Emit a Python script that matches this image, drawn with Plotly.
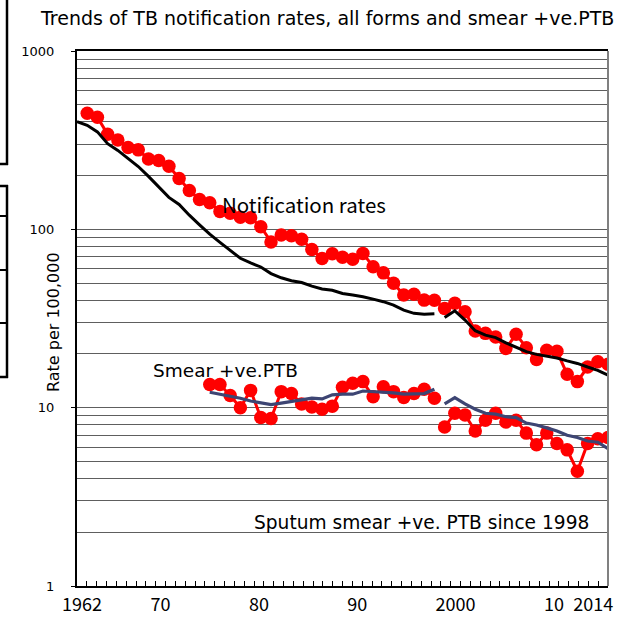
import plotly.graph_objects as go

# ---------------- data ----------------
notif_years = list(range(1963, 2015))
notif_rates = [448, 425, 341, 317, 288, 279, 248, 243, 226, 193,
               165, 147, 141, 126, 123, 117, 116, 103.5, 85, 93,
               92, 88, 77, 68.7, 73, 69.7, 68, 73.3, 61.7, 57,
               49.8, 42.8, 43.3, 40.1, 40, 36, 38.5, 34.5, 26.9, 26.1,
               24.9, 21.5, 25.8, 21.7, 18.6, 21.0, 20.7, 15.4, 14.0, 16.9,
               18.1, 17.5]

japan_years_1 = list(range(1962, 1998))
japan_rates_1 = [402, 383, 352, 302, 277, 251, 225, 198, 172, 151,
                 138, 120, 106, 94, 84.5, 76.6, 68.8, 64.8, 61.5, 56.5,
                 53.5, 51.5, 50.3, 48, 46.3, 45.5, 43.7, 42.8, 41.9, 40.6,
                 39.3, 37.6, 35.2, 33.8, 33.4, 33.6]
japan_years_2 = list(range(1998, 2015))
japan_rates_2 = [32.0, 34.9, 31.0, 27.0, 25.5, 24.7, 23.1, 21.9, 20.6, 19.9,
                 19.5, 19.0, 18.3, 17.7, 16.9, 16.2, 15.2]

smear_years_1 = list(range(1975, 1998))
smear_rates_1 = [13.5, 13.5, 11.7, 10.0, 12.5, 8.8, 8.7, 12.3, 12.0, 10.5,
                 10.1, 9.8, 10.2, 13.0, 13.7, 14.0, 11.5, 13.1, 12.3, 11.4,
                 12.0, 12.7, 11.3]
smear_years_2 = list(range(1998, 2015))
smear_rates_2 = [7.8, 9.3, 9.1, 7.4, 8.5, 9.3, 8.3, 8.5, 7.2, 6.2,
                 7.2, 6.3, 5.8, 4.4, 6.3, 6.7, 6.8]

japan_smear_1 = [12.2, 11.9, 11.6, 11.3, 10.9, 10.6, 10.4, 10.6, 10.8, 11.0,
                 11.3, 11.2, 11.8, 11.9, 11.9, 12.4, 12.3, 12.3, 12.1, 11.9,
                 12.0, 12.0, 12.7]
japan_smear_2 = [10.5, 11.4, 10.5, 9.8, 9.3, 9.2, 8.9, 8.8, 8.2, 8.0,
                 7.7, 7.4, 7.0, 6.8, 6.5, 6.4, 5.9]

tick_years = [1962, 1970, 1980, 1990, 2000, 2010, 2014]
tick_text = ["1962", "70", "80", "90", "2000", "10", "2014"]
category_years = list(range(1962, 2016))
y_tick_vals = [1, 10, 100, 1000]
y_tick_text = ["1", "10", "100", "1000"]
y_minor_vals = [m * d for d in (1, 10, 100) for m in range(2, 10)]

# ---------------- layout helpers ----------------
W, H = 630, 618
L, R, T, B = 77, 22, 51, 32
PW, PH = W - L - R, H - T - B


def px(x):
    return (x - L) / PW


def py(y):
    return (H - B - y) / PH


RED = "#ff0000"
BLUE = "#3d4573"

fig = go.Figure()

fig.add_trace(go.Scatter(x=notif_years, y=notif_rates, mode="lines+markers",
                         line=dict(color=RED, width=3),
                         marker=dict(color=RED, size=13.5), showlegend=False))
for yrs, vals in ((smear_years_1, smear_rates_1), (smear_years_2, smear_rates_2)):
    fig.add_trace(go.Scatter(x=yrs, y=vals, mode="lines+markers",
                             line=dict(color=RED, width=3),
                             marker=dict(color=RED, size=13.5), showlegend=False))
for yrs, vals in ((japan_years_1, japan_rates_1), (japan_years_2, japan_rates_2)):
    fig.add_trace(go.Scatter(x=yrs, y=vals, mode="lines",
                             line=dict(color="black", width=3), showlegend=False))
for yrs, vals in ((smear_years_1, japan_smear_1), (smear_years_2, japan_smear_2)):
    fig.add_trace(go.Scatter(x=yrs, y=vals, mode="lines",
                             line=dict(color=BLUE, width=3.2), showlegend=False))

# carrier for the category label axis
fig.add_trace(go.Scatter(x=category_years, y=[None] * len(category_years),
                         xaxis="x2", yaxis="y", mode="markers",
                         showlegend=False, hoverinfo="skip"))

grid_col = "#5e5e5e"

fig.update_layout(
    width=W, height=H,
    margin=dict(l=L, r=R, t=T, b=B, autoexpand=False),
    paper_bgcolor="white", plot_bgcolor="white",
    showlegend=False,
    xaxis=dict(range=[1962, 2014], showticklabels=False, ticks="",
               showgrid=False, zeroline=False, showline=True,
               linecolor="black", linewidth=2, mirror=True, automargin=False),
    xaxis2=dict(overlaying="x", anchor="y", side="bottom",
                range=[1961.5, 2015.5], tickmode="array",
                tickvals=tick_years, ticktext=tick_text, ticks="",
                showgrid=False, zeroline=False, showline=False,
                automargin=False,
                tickfont=dict(family="Noto Sans CJK JP", size=18, color="black"),
                ticklabelstandoff=6,
                minor=dict(tickmode="array",
                           tickvals=[y + 0.5 for y in category_years[:-1]],
                           ticks="inside", ticklen=5, tickwidth=1,
                           tickcolor="black", showgrid=False)),
    yaxis=dict(type="log", range=[0, 3], tickmode="array",
               tickvals=y_tick_vals, ticktext=y_tick_text,
               ticks="outside", ticklen=4, tickcolor="black",
               showline=True, linecolor="black", linewidth=2,
               showgrid=True, gridcolor=grid_col, gridwidth=1,
               zeroline=False, automargin=False,
               tickfont=dict(family="DejaVu Sans", size=13, color="black"),
               ticklabelstandoff=14,
               minor=dict(tickmode="array", tickvals=y_minor_vals,
                          showgrid=True, gridcolor=grid_col, gridwidth=1,
                          ticks="")),
)

annos = [
    dict(text="Trends of TB notification rates, all forms and smear +ve.PTB",
         x=px(327), y=py(18), xanchor="center", yanchor="middle",
         font=dict(family="DejaVu Sans", size=19, color="black")),
    dict(text="Rate per 100,000", x=px(53), y=py(322), textangle=-90,
         xanchor="center", yanchor="middle",
         font=dict(family="DejaVu Sans", size=16, color="black")),
    dict(text="Notification rates", x=px(220), y=py(204), xanchor="left",
         yanchor="middle",
         font=dict(family="Noto Sans CJK JP", size=20.5, color="black")),
    dict(text="Smear +ve.PTB", x=px(151), y=py(370), xanchor="left",
         yanchor="middle",
         font=dict(family="DejaVu Sans", size=18.5, color="black")),
    dict(text="Sputum smear +ve. PTB since 1998", x=px(252), y=py(522),
         xanchor="left", yanchor="middle",
         font=dict(family="DejaVu Sans", size=18.6, color="black")),
]
for a in annos:
    a.update(xref="paper", yref="paper", showarrow=False)
fig.update_layout(annotations=annos)

shapes = [
    # right border (gray)
    dict(type="line", xref="paper", yref="paper", x0=1, x1=1, y0=0, y1=1,
         line=dict(color="#808080", width=2)),
    # cropped boxes at the left edge
    dict(type="line", xref="paper", yref="paper", x0=px(7), x1=px(7),
         y0=py(0), y1=py(165), line=dict(color="black", width=2.5)),
    dict(type="line", xref="paper", yref="paper", x0=px(-2), x1=px(8),
         y0=py(164), y1=py(164), line=dict(color="black", width=2.5)),
    dict(type="line", xref="paper", yref="paper", x0=px(7), x1=px(7),
         y0=py(185), y1=py(378), line=dict(color="black", width=2.5)),
]
for yy in (186, 216, 270, 323, 377):
    shapes.append(dict(type="line", xref="paper", yref="paper",
                       x0=px(-2), x1=px(8), y0=py(yy), y1=py(yy),
                       line=dict(color="black", width=2 if yy not in (186, 377) else 2.5)))
fig.update_layout(shapes=shapes)

fig.write_html("out.html",
               config={"displayModeBar": False},
               post_script="document.body.style.margin='0';"
                           "document.body.style.overflow='hidden';")
